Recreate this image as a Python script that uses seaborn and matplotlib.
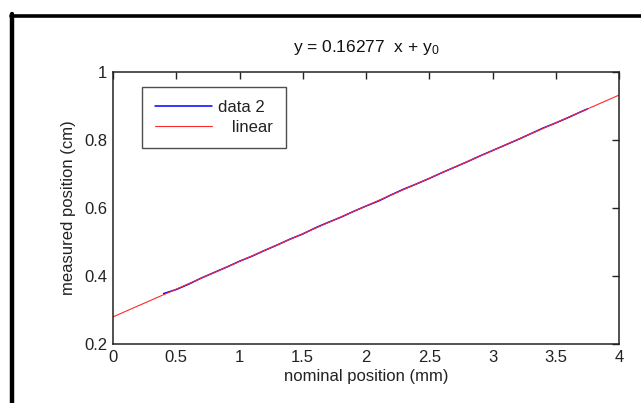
import matplotlib
matplotlib.use("Agg")
import matplotlib.pyplot as plt
import seaborn as sns
from matplotlib.lines import Line2D

# ---- data ----
data2_x = [0.40, 0.50, 0.60, 0.70, 0.80, 0.90, 1.00, 1.10, 1.20, 1.30, 1.40, 1.50,
           1.60, 1.70, 1.80, 1.90, 2.00, 2.10, 2.20, 2.30, 2.40, 2.50, 2.60, 2.70,
           2.80, 2.90, 3.00, 3.10, 3.20, 3.30, 3.40, 3.50, 3.60, 3.70, 3.75]
data2_y = [0.348, 0.360, 0.376, 0.394, 0.410, 0.426, 0.443, 0.458, 0.475, 0.491,
           0.508, 0.523, 0.541, 0.557, 0.572, 0.589, 0.605, 0.620, 0.638, 0.655,
           0.670, 0.686, 0.703, 0.719, 0.735, 0.752, 0.768, 0.784, 0.800, 0.817,
           0.834, 0.849, 0.865, 0.882, 0.890]
linear_x = [0, 1, 2, 3, 4]
linear_y = [0.2796, 0.4424, 0.6051, 0.7679, 0.9307]
x_ticks = [0, 0.5, 1, 1.5, 2, 2.5, 3, 3.5, 4]
x_tick_labels = ["0", "0.5", "1", "1.5", "2", "2.5", "3", "3.5", "4"]
y_ticks = [0.2, 0.4, 0.6, 0.8, 1]
y_tick_labels = ["0.2", "0.4", "0.6", "0.8", "1"]
title = r"y = 0.16277  x + y$\mathregular{_0}$"
xlabel = "nominal position (mm)"
ylabel = "measured position (cm)"

sns.set_style("white")
plt.rcParams["font.family"] = ["Liberation Sans", "DejaVu Sans"]
plt.rcParams["mathtext.fontset"] = "custom"
plt.rcParams["mathtext.rm"] = "Liberation Sans"

FS = 12

fig = plt.figure(figsize=(6.41, 4.03), dpi=100)
fig.patch.set_facecolor("white")
ax = fig.add_axes([113/641, 59/403, (619-113)/641, (344-71.5)/403])

sns.lineplot(x=data2_x, y=data2_y, ax=ax, color="#0000ff", linewidth=1.1,
             label="data 2", sort=False)
sns.lineplot(x=linear_x, y=linear_y, ax=ax, color="#ff2a2a", linewidth=0.8,
             label="   linear", sort=False)

ax.set_xlim(0, 4)
ax.set_ylim(0.2, 1)
ax.set_xticks(x_ticks)
ax.set_xticklabels(x_tick_labels)
ax.set_yticks(y_ticks)
ax.set_yticklabels(y_tick_labels)
ax.tick_params(direction="in", length=5, width=1, color="#222222",
               top=True, right=True, labelsize=FS, labelcolor="#222222", pad=4)
for s in ax.spines.values():
    s.set_visible(True)
    s.set_color("#222222")
    s.set_linewidth(1.1)

ax.set_title(title, fontsize=12.5, color="#111111", pad=14)
ax.set_xlabel(xlabel, fontsize=FS, color="#222222", labelpad=3)
ax.set_ylabel(ylabel, fontsize=FS, color="#222222", labelpad=6)

leg = ax.legend(loc="upper left", bbox_to_anchor=(0.057, 0.943), fontsize=FS,
                frameon=True, fancybox=False, handlelength=3.4, borderpad=0.78,
                labelspacing=0.3, handletextpad=0.4, borderaxespad=0)
leg.get_frame().set_edgecolor("#222222")
leg.get_frame().set_linewidth(1.0)
for t in leg.get_texts():
    t.set_color("#222222")

# outer black frame (left and top)
fig.add_artist(Line2D([12/641, 12/641], [0, 1 - 14/403], transform=fig.transFigure,
                      color="black", linewidth=3.2))
fig.add_artist(Line2D([10.5/641, 1], [1 - 15.5/403, 1 - 15.5/403], transform=fig.transFigure,
                      color="black", linewidth=2.6))

fig.savefig("out.png", dpi=100)
